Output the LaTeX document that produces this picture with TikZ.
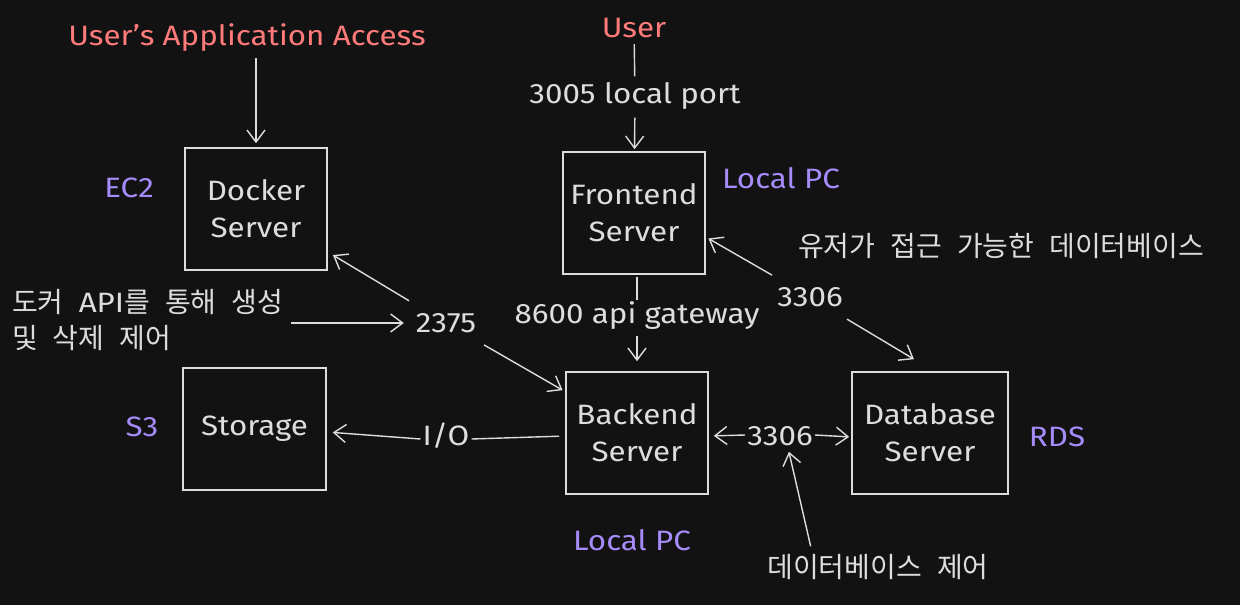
\documentclass[tikz,border=0pt]{standalone}
\usepackage{fontspec}
\setmainfont[FakeStretch=1.12]{Fira Sans}
\newfontfamily\latinapi[FakeStretch=1.12]{Fira Sans}
\newfontfamily\kr[WordSpace=2.4]{Noto Sans CJK KR}
\usetikzlibrary{arrows.meta}
\definecolor{bg}{HTML}{121212}
\definecolor{fg}{HTML}{DDDDDD}
\definecolor{redt}{HTML}{FF7A7A}
\definecolor{purt}{HTML}{A68BFA}
\begin{document}
\begin{tikzpicture}[x=1pt,y=-1pt,
  box/.style={draw=fg, line width=1.6pt, minimum width=142pt, minimum height=122pt, text=fg, align=center, font=\fontsize{28}{37}\selectfont},
  lbl/.style={text=fg, font=\fontsize{28}{37}\selectfont, inner sep=2pt},
  klbl/.style={text=fg, font=\kr\fontsize{28}{36}\selectfont, inner sep=2pt},
  rlbl/.style={text=redt, font=\fontsize{28}{37}\selectfont, inner sep=2pt},
  plbl/.style={text=purt, font=\fontsize{28}{37}\selectfont, inner sep=2pt},
  arr/.style={draw=fg, line width=1.4pt, -{Straight Barb[length=12pt,width=18pt,line width=1.4pt]}},
  ln/.style={draw=fg, line width=1.4pt}]
\fill[bg] (0,0) rectangle (1240,605);
\useasboundingbox (0,0) rectangle (1240,605);

% boxes
\node[box] (docker) at (256,209) {Docker\\Server};
\node[box] (frontend) at (634,213) {Frontend\\Server};
\node[box, minimum width=143pt] (storage) at (254.5,429) {Storage};
\node[box] (backend) at (637,433) {Backend\\Server};
\node[box, minimum width=156pt] (db) at (930,433) {Database\\Server};

% labels
\node[rlbl] (uaa) at (247,38) {User's Application Access};
\node[rlbl] (user) at (634,28) {User};
\node[lbl] (p3005) at (635,96) {3005 local port};
\node[plbl] (ec2) at (129,188) {EC2};
\node[plbl] (lpc1) at (781,178) {Local PC};
\node[klbl] (udb) at (1001,246) {유저가 접근 가능한 데이터베이스};
\node[lbl] (p3306a) at (810,297) {3306};
\node[lbl] (p8600) at (637,316) {8600 api gateway};
\node[lbl] (n2375) at (446,323) {2375};
\node[klbl, anchor=west, align=left] (dk) at (10,320) {도커 {\latinapi API}를 통해 생성\\및 삭제 제어};
\node[plbl] (s3) at (142,427) {S3};
\node[lbl] (io) at (446,436) {I/O};
\node[lbl] (p3306b) at (780,436) {3306};
\node[plbl] (lpc2) at (632,540) {Local PC};
\node[plbl] (rds) at (1057,437) {RDS};
\node[klbl] (dbctl) at (878,567) {데이터베이스 제어};

% connectors
\draw[arr, shorten <=4pt, shorten >=4pt] (docker.north |- uaa.south) -- (docker.north);
\draw[ln, shorten <=4pt, shorten >=4pt] (user) -- (p3005);
\draw[arr, shorten <=6pt, shorten >=2pt] (p3005) -- (frontend);
\draw[ln, shorten <=2pt] (p8600 |- frontend.south) -- (p8600.north);
\draw[arr, shorten <=4pt, shorten >=10pt] (p8600) -- (p8600 |- backend.north);
\draw[arr, shorten <=20pt, shorten >=6pt] (n2375) -- (docker);
\draw[arr, shorten <=20pt, shorten >=3pt] (n2375) -- (backend);
\draw[arr, shorten <=6pt, shorten >=10pt] (dk.east |- n2375) -- (n2375.west);
\draw[arr, shorten <=20pt, shorten >=3pt] (p3306a) -- ([yshift=-24pt]frontend.east);
\draw[arr, shorten <=20pt] (p3306a) -- ([xshift=-16pt,yshift=12pt]db.north);
\draw[ln, shorten <=6pt, shorten >=0pt] ([yshift=-3pt]backend.west) -- ([yshift=-3pt]io.east);
\draw[arr, shorten <=0pt, shorten >=6pt] ([yshift=-3pt]io.west) -- ([yshift=-3pt]storage.east);
\draw[arr, shorten <=0pt, shorten >=5pt] ([yshift=1pt]p3306b.west) -- ([yshift=-3pt]backend.east);
\draw[arr, shorten <=0pt, shorten >=2pt] ([yshift=1pt]p3306b.east) -- ([yshift=-4pt]db.west);
\draw[arr, shorten <=6pt, shorten >=4pt] ([xshift=-66pt]dbctl.north) -- ([xshift=8pt]p3306b.south);
\end{tikzpicture}
\end{document}
